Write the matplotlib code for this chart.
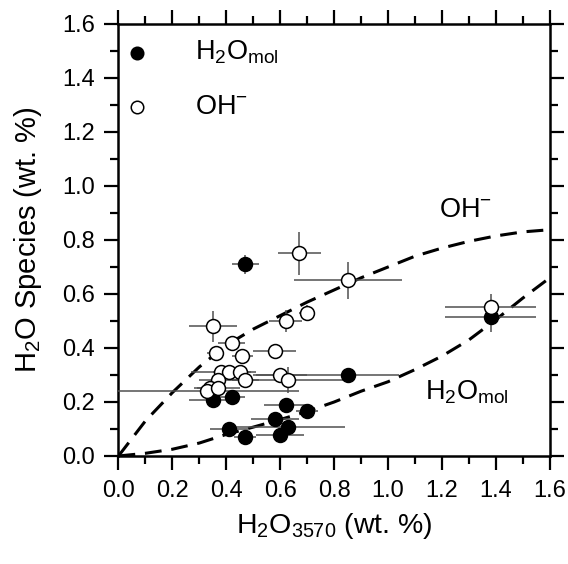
import numpy as np
import matplotlib
matplotlib.use('Agg')
import matplotlib.pyplot as plt
from matplotlib.ticker import MultipleLocator

plt.rcParams['font.family'] = ['Liberation Sans', 'DejaVu Sans']
plt.rcParams['mathtext.default'] = 'regular'

# H2O_mol (filled) points
mol_x = [0.47, 0.85, 0.35, 0.42, 0.62, 0.70, 0.58, 0.63, 0.41, 0.60, 0.47, 1.38]
mol_y = [0.71, 0.30, 0.207, 0.22, 0.19, 0.168, 0.138, 0.109, 0.099, 0.079, 0.069, 0.516]
mol_xerr_lo = [0.05, 0.34, 0.09, 0.05, 0.08, 0.04, 0.09, 0.21, 0.07, 0.09, 0.04, 0.17]
mol_xerr_hi = [0.05, 0.19, 0.09, 0.05, 0.08, 0.04, 0.09, 0.21, 0.07, 0.09, 0.04, 0.17]
mol_yerr = [0.035, 0, 0, 0, 0, 0, 0, 0, 0, 0, 0, 0.055]

# OH- (open) points
oh_x = [0.67, 0.85, 0.70, 0.62, 0.35, 0.42, 0.36, 0.46, 0.58, 0.60, 0.63,
        0.38, 0.41, 0.45, 0.47, 0.37, 0.34, 0.33, 0.37, 1.38]
oh_y = [0.75, 0.65, 0.53, 0.50, 0.48, 0.42, 0.38, 0.37, 0.39, 0.30, 0.28,
        0.31, 0.31, 0.31, 0.28, 0.28, 0.25, 0.24, 0.25, 0.55]
oh_xerr = [0.08, 0.20, 0.03, 0.06, 0.09, 0.05, 0.03, 0.04, 0.08, 0.10, 0.21,
           0.11, 0.06, 0.06, 0.05, 0.07, 0.06, 0.34, 0.08, 0.17]
oh_yerr = [0.08, 0.07, 0.03, 0.04, 0.056, 0.02, 0.02, 0.02, 0.02, 0.02, 0.048,
           0, 0, 0, 0, 0.04, 0, 0, 0, 0.05]

# model curves
curve_x = [0.0, 0.1, 0.2, 0.3, 0.4, 0.5, 0.6, 0.7, 0.8, 0.9, 1.0, 1.1, 1.2, 1.3, 1.4, 1.5, 1.6]
curve_oh = [0.0, 0.13, 0.235, 0.33, 0.41, 0.47, 0.52, 0.57, 0.615, 0.66, 0.70,
            0.74, 0.77, 0.795, 0.815, 0.83, 0.838]
curve_mol = [0.0, 0.01, 0.025, 0.048, 0.08, 0.107, 0.135, 0.165, 0.20, 0.24, 0.275,
             0.32, 0.37, 0.43, 0.505, 0.585, 0.66]

fig = plt.figure(figsize=(5.68, 5.64), dpi=100)
ax = fig.add_axes([0.2086, 0.1915, 0.7594, 0.7660])

dash = dict(color='black', lw=2.2, dashes=(5.5, 3.2), zorder=2)
ax.plot(curve_x, curve_oh, **dash)
ax.plot(curve_x, curve_mol, **dash)

ecol = '#505050'
ax.errorbar(mol_x, mol_y, xerr=[mol_xerr_lo, mol_xerr_hi], yerr=mol_yerr, fmt='none',
            ecolor=ecol, elinewidth=1.1, capsize=0, zorder=3)
ax.errorbar(oh_x, oh_y, xerr=oh_xerr, yerr=oh_yerr, fmt='none',
            ecolor=ecol, elinewidth=1.1, capsize=0, zorder=3)

ax.plot(mol_x, mol_y, 'o', ms=10, mfc='black', mec='black', mew=1.1, zorder=4)
ax.plot(oh_x, oh_y, 'o', ms=10, mfc='white', mec='black', mew=1.1, zorder=5)

# legend drawn by hand
ax.plot([0.069], [1.494], 'o', ms=9, mfc='black', mec='black', mew=1.1, clip_on=False)
ax.plot([0.069], [1.293], 'o', ms=9, mfc='white', mec='black', mew=1.1, clip_on=False)
ax.text(0.285, 1.494, r'$H_2O_{mol}$', fontsize=19.5, va='center', ha='left')
ax.text(0.285, 1.293, r'$OH^{-}$', fontsize=19.5, va='center', ha='left')

ax.text(1.19, 0.91, r'$OH^{-}$', fontsize=19.5, va='center', ha='left')
ax.text(1.136, 0.235, r'$H_2O_{mol}$', fontsize=19.5, va='center', ha='left')

ax.set_xlim(0, 1.6)
ax.set_ylim(0, 1.6)
ax.xaxis.set_major_locator(MultipleLocator(0.2))
ax.xaxis.set_minor_locator(MultipleLocator(0.1))
ax.yaxis.set_major_locator(MultipleLocator(0.2))
ax.yaxis.set_minor_locator(MultipleLocator(0.1))
ax.xaxis.set_major_formatter(plt.FormatStrFormatter('%.1f'))
ax.yaxis.set_major_formatter(plt.FormatStrFormatter('%.1f'))

for s in ax.spines.values():
    s.set_linewidth(1.8)
ax.tick_params(which='both', direction='out', top=True, right=True, width=1.6,
               labelsize=17, pad=7)
ax.tick_params(which='major', length=10)
ax.tick_params(which='minor', length=5.5)

ax.set_xlabel(r'$H_2O_{3570}$ (wt. %)', fontsize=20.5, labelpad=7)
ax.set_ylabel(r'$H_2O$ Species (wt. %)', fontsize=21, labelpad=13)

fig.savefig('out.png', dpi=100)
